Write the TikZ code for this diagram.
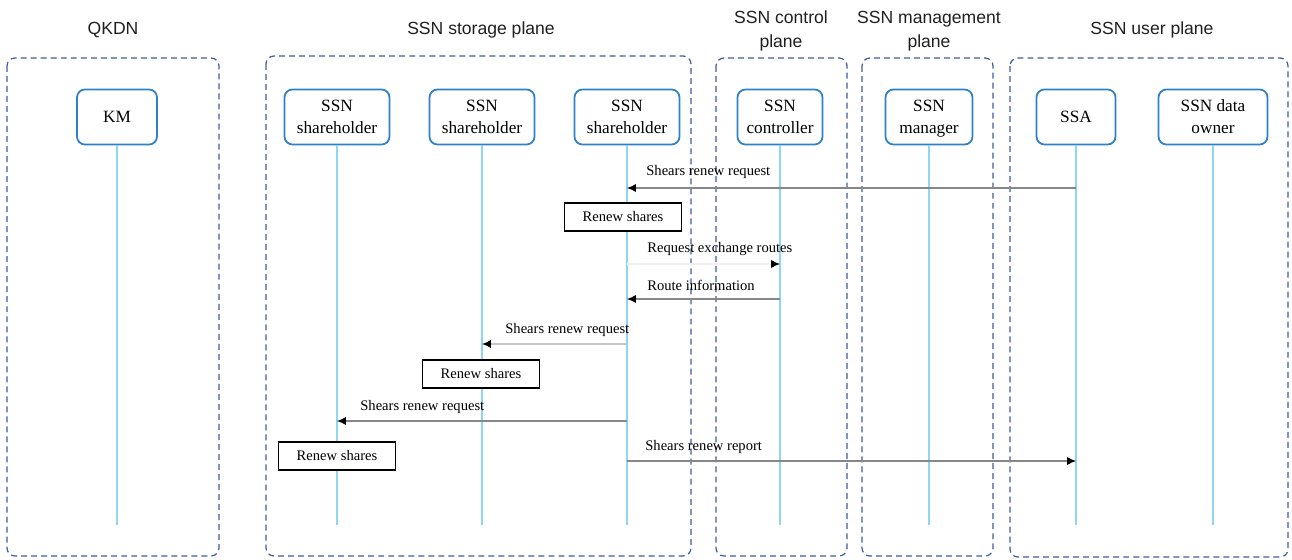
\documentclass[tikz,border=0pt]{standalone}
\usepackage{fontspec}
\setmainfont{Liberation Serif}
\newfontfamily\headfont{Liberation Sans}
\usetikzlibrary{arrows.meta,positioning}
\definecolor{planeblue}{RGB}{62,92,160}
\definecolor{boxblue}{RGB}{46,128,200}
\definecolor{lifeblue}{RGB}{142,214,245}
\definecolor{msggray}{RGB}{135,135,135}

\begin{document}
\begin{tikzpicture}[x=0.02cm,y=-0.02cm,>={Latex[length=5pt,width=4.5pt,black]},
  plane/.style={draw=planeblue,dash pattern=on 3.4pt off 2.3pt,line width=0.7pt,rounded corners=4.5pt},
  head/.style={font=\headfont\fontsize{10}{13.6}\selectfont,text=black!88,align=center},
  life/.style={draw=boxblue,line width=1pt,rounded corners=4.5pt,align=center,
    minimum height=1.1cm,font=\fontsize{9.8}{12.5}\selectfont},
  lifeline/.style={draw=lifeblue,line width=0.6pt},
  msg/.style={draw=msggray,line width=0.6pt,->},
  lbl/.style={font=\fontsize{8.3}{10}\selectfont,anchor=west,inner sep=0pt},
  renew/.style={draw=black,line width=0.8pt,minimum width=2.34cm,minimum height=0.56cm,
    font=\fontsize{8.3}{10}\selectfont}]
\useasboundingbox (0,0) rectangle (1292,560);

% planes
\draw[plane] (7,58) rectangle (219,556);
\draw[plane] (266,56) rectangle (691,556);
\draw[plane] (716,58) rectangle (847,556);
\draw[plane] (862,58) rectangle (993,556);
\draw[plane] (1010,58) rectangle (1288,557);

\node[head] (hqkdn) at (113,30) {QKDN};
\node[head] (hstore) at (481,30) {SSN storage plane};
\node[head] (hctl) at (781,31) {SSN control\\plane};
\node[head] (hmgr) at (929,31) {SSN management\\plane};
\node[head] (huser) at (1152,30) {SSN user plane};

% lifelines
\node[life,minimum width=1.6cm] (km) at (117,117) {KM};
\node[life,minimum width=2.1cm] (sh1) at (337,117) {SSN\\shareholder};
\node[life,minimum width=2.1cm] (sh2) at (482,117) {SSN\\shareholder};
\node[life,minimum width=2.1cm] (sh3) at (627,117) {SSN\\shareholder};
\node[life,minimum width=1.7cm] (ctl) at (780,117) {SSN\\controller};
\node[life,minimum width=1.74cm] (mgr) at (929,117) {SSN\\mana\smash{g}er};
\node[life,minimum width=1.58cm] (ssa) at (1076,117) {SSA};
\node[life,minimum width=2.18cm] (own) at (1213,117) {SSN data\\owner};

\foreach \n in {km,sh1,sh2,sh3,ctl,mgr,ssa,own}
  \draw[lifeline] (\n.south) -- (\n.south |- 0,525);

% messages
\draw[msg] (ssa |- 0,188) -- (sh3 |- 0,188);
\node[lbl] (l1) at (646,172) {Shears renew request};

\node[renew,fill=white] (rn1) at (623,217) {Renew shares};

\draw[msg,draw=black!6] (sh3 |- 0,264) -- (ctl |- 0,264);
\node[lbl] (l2) at (647,249) {Request exchange routes};

\draw[msg] (ctl |- 0,299) -- (sh3 |- 0,299);
\node[lbl] (l3) at (647,285) {Route information};

\draw[msg,draw=black!22] (sh3 |- 0,344) -- (sh2 |- 0,344);
\node[lbl] (l4) at (505,330) {Shears renew request};

\node[renew,fill=white] (rn2) at (481,374) {Renew shares};

\draw[msg] (sh3 |- 0,421) -- (sh1 |- 0,421);
\node[lbl] (l5) at (360,407) {Shears renew request};

\node[renew,fill=white] (rn3) at (337,456) {Renew shares};

\draw[msg] (sh3 |- 0,461) -- (ssa |- 0,461);
\node[lbl] (l6) at (645,447) {Shears renew report};
\end{tikzpicture}
\end{document}
